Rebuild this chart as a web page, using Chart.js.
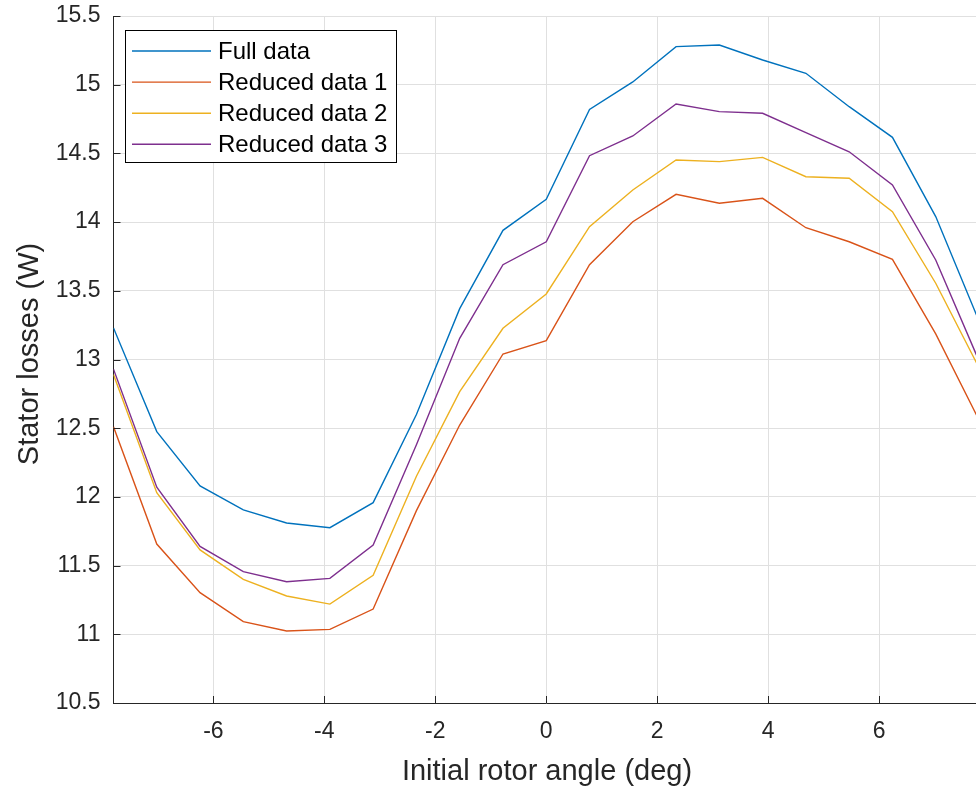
<!DOCTYPE html>
<html>
<head>
<meta charset="utf-8">
<title>Stator losses</title>
<script src="https://cdn.jsdelivr.net/npm/chart.js@4/dist/chart.umd.min.js"></script>
<style>
  html, body { margin: 0; padding: 0; background: #fff; overflow: hidden; }
  #wrap { width: 976px; height: 792px; overflow: hidden; }
</style>
</head>
<body>
<div id="wrap"><canvas id="myChart" width="990" height="792"></canvas></div>
<script>
// rotor angle steps (deg)
const angles = [-7.8, -7.02, -6.24, -5.46, -4.68, -3.9, -3.12, -2.34, -1.56, -0.78, 0,
                0.78, 1.56, 2.34, 3.12, 3.9, 4.68, 5.46, 6.24, 7.02, 7.8];

// stator losses (W) for each case
const fullData = [13.23, 12.475, 12.08, 11.905, 11.81, 11.776, 11.958, 12.6, 13.37, 13.94, 14.166,
                  14.82, 15.02, 15.277, 15.289, 15.18, 15.083, 14.84, 14.617, 14.04, 13.28];
const reduced1 = [12.51, 11.657, 11.303, 11.092, 11.024, 11.036, 11.184, 11.9, 12.523, 13.04, 13.137,
                  13.69, 14.003, 14.202, 14.137, 14.173, 13.959, 13.857, 13.729, 13.186, 12.56];
const reduced2 = [12.89, 12.03, 11.614, 11.40, 11.279, 11.22, 11.43, 12.15, 12.766, 13.227, 13.477,
                  13.967, 14.234, 14.452, 14.44, 14.471, 14.33, 14.319, 14.076, 13.555, 12.94];
const reduced3 = [12.93, 12.07, 11.64, 11.456, 11.383, 11.407, 11.65, 12.38, 13.154, 13.69, 13.857,
                  14.483, 14.627, 14.86, 14.804, 14.792, 14.651, 14.512, 14.27, 13.724, 12.99];

const seriesNames = ['Full data', 'Reduced data 1', 'Reduced data 2', 'Reduced data 3'];
const seriesColors = ['#0072BD', '#D95319', '#EDB120', '#7E2F8E'];

// tick labels
const xTicks = [-6, -4, -2, 0, 2, 4, 6];
const yTicks = [10.5, 11, 11.5, 12, 12.5, 13, 13.5, 14, 14.5, 15, 15.5];

const FONT = '"Liberation Sans", Arial, Helvetica, sans-serif';
const AXIS_COLOR = '#262626';

// pair angles with values
function toPoints(values)
{
    let pts = [];
    for (let i = 0; i < angles.length; i++) {
        pts.push({ x: angles[i], y: values[i] });
    }
    return pts;
}

const allSeries = [fullData, reduced1, reduced2, reduced3];
let datasets = [];
for (let i = 0; i < allSeries.length; i++) {
    datasets.push({
        label: seriesNames[i],
        data: toPoints(allSeries[i]),
        borderColor: seriesColors[i],
        backgroundColor: seriesColors[i],
        borderWidth: 1.4,
        pointRadius: 0,
        tension: 0,
        fill: false
    });
}

// inward tick marks, axis titles and the boxed legend
const decorations = {
    id: 'decorations',
    afterDatasetsDraw(chart) {
        const ctx = chart.ctx;
        const area = chart.chartArea;
        const xs = chart.scales.x;
        const ys = chart.scales.y;

        ctx.save();
        ctx.strokeStyle = AXIS_COLOR;
        ctx.lineWidth = 1;
        ctx.beginPath();
        xTicks.forEach(function (t) {
            const px = Math.round(xs.getPixelForValue(t)) + 0.5;
            ctx.moveTo(px, area.bottom);
            ctx.lineTo(px, area.bottom - 7);
        });
        yTicks.forEach(function (t) {
            const py = Math.round(ys.getPixelForValue(t)) + 0.5;
            ctx.moveTo(area.left, py);
            ctx.lineTo(area.left + 7, py);
        });
        ctx.stroke();

        // axis titles
        ctx.fillStyle = AXIS_COLOR;
        ctx.font = '29px ' + FONT;
        ctx.textAlign = 'center';
        ctx.textBaseline = 'middle';
        ctx.fillText('Initial rotor angle (deg)', 547, 772);

        ctx.translate(30, 354);
        ctx.rotate(-Math.PI / 2);
        ctx.fillText('Stator losses (W)', 0, 0);
        ctx.restore();

        // legend box
        ctx.save();
        const boxX = 125.5, boxY = 30.5, boxW = 271, boxH = 132;
        ctx.fillStyle = '#ffffff';
        ctx.fillRect(boxX, boxY, boxW, boxH);
        ctx.strokeStyle = '#000000';
        ctx.lineWidth = 1;
        ctx.strokeRect(boxX, boxY, boxW, boxH);

        ctx.font = '24px ' + FONT;
        ctx.textAlign = 'left';
        ctx.textBaseline = 'middle';
        chart.data.datasets.forEach(function (ds, i) {
            const rowY = 51 + i * 31.1;
            ctx.strokeStyle = ds.borderColor;
            ctx.lineWidth = 1.4;
            ctx.beginPath();
            ctx.moveTo(132, rowY);
            ctx.lineTo(211, rowY);
            ctx.stroke();
            ctx.fillStyle = '#000000';
            ctx.fillText(ds.label, 218, rowY + 1);
        });
        ctx.restore();
    }
};

const ctx = document.getElementById('myChart').getContext('2d');
const myChart = new Chart(ctx, {
    type: 'line',
    data: { datasets: datasets },
    options: {
        responsive: false,
        animation: false,
        layout: { padding: { top: 16, right: 11, left: 0, bottom: 0 } },
        plugins: {
            legend: { display: false },
            tooltip: { enabled: false }
        },
        scales: {
            x: {
                type: 'linear',
                min: -7.8,
                max: 7.8,
                afterBuildTicks: function (scale) {
                    scale.ticks = xTicks.map(function (v) { return { value: v }; });
                },
                afterFit: function (scale) {
                    scale.height = 89;
                    scale.paddingLeft = 0;
                    scale.paddingRight = 0;
                },
                grid: { color: '#e0e0e0', lineWidth: 1, drawTicks: false },
                border: { color: AXIS_COLOR, width: 1 },
                ticks: {
                    color: AXIS_COLOR,
                    font: { family: FONT, size: 23 },
                    padding: 15,
                    maxRotation: 0,
                    callback: function (v) { return String(v); }
                }
            },
            y: {
                type: 'linear',
                min: 10.5,
                max: 15.5,
                afterBuildTicks: function (scale) {
                    scale.ticks = yTicks.map(function (v) { return { value: v }; });
                },
                afterFit: function (scale) {
                    scale.width = 113.5;
                    scale.paddingTop = 0;
                    scale.paddingBottom = 0;
                },
                grid: { color: '#e0e0e0', lineWidth: 1, drawTicks: false },
                border: { color: AXIS_COLOR, width: 1 },
                ticks: {
                    color: AXIS_COLOR,
                    font: { family: FONT, size: 23 },
                    padding: 13,
                    callback: function (v) { return String(v); }
                }
            }
        }
    },
    plugins: [decorations]
});
</script>
</body>
</html>
